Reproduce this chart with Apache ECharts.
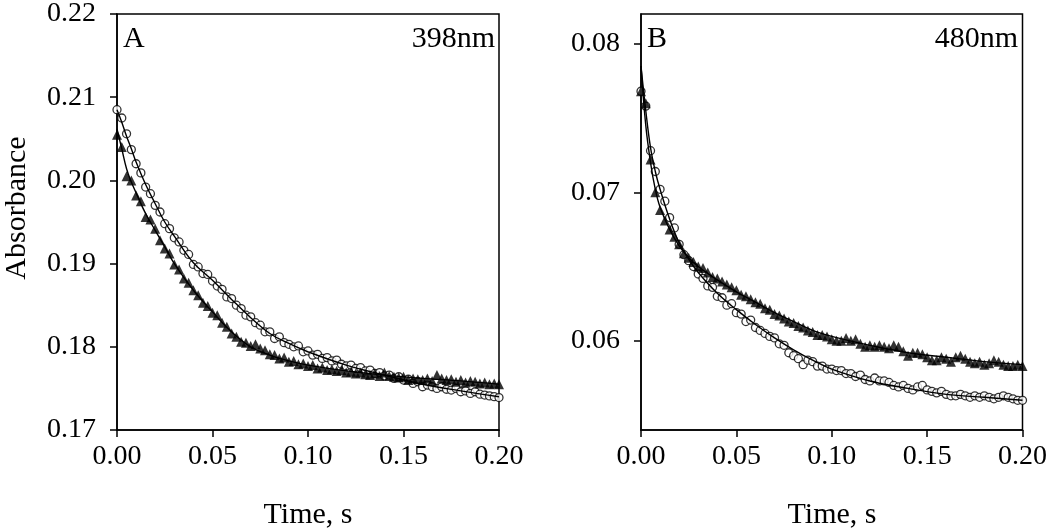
<!DOCTYPE html>
<html>
<head>
<meta charset="utf-8">
<script src="https://cdn.jsdelivr.net/npm/echarts@6/dist/echarts.min.js"></script>
<style>html,body{margin:0;padding:0;background:#fff}#c{width:1050px;height:531px}</style>
</head>
<body>
<div id="c"></div>
<script>
// ---- sample times (s) ----
const timeData = [
0.0000,0.0025,0.0050,0.0075,0.0100,0.0125,0.0150,0.0175,0.0200,0.0225,
0.0250,0.0275,0.0300,0.0325,0.0350,0.0375,0.0400,0.0425,0.0450,0.0475,
0.0500,0.0525,0.0550,0.0575,0.0600,0.0625,0.0650,0.0675,0.0700,0.0725,
0.0750,0.0775,0.0800,0.0825,0.0850,0.0875,0.0900,0.0925,0.0950,0.0975,
0.1000,0.1025,0.1050,0.1075,0.1100,0.1125,0.1150,0.1175,0.1200,0.1225,
0.1250,0.1275,0.1300,0.1325,0.1350,0.1375,0.1400,0.1425,0.1450,0.1475,
0.1500,0.1525,0.1550,0.1575,0.1600,0.1625,0.1650,0.1675,0.1700,0.1725,
0.1750,0.1775,0.1800,0.1825,0.1850,0.1875,0.1900,0.1925,0.1950,0.1975,0.2000];

// ---- Panel A (398 nm) ----
const circlesA = [
0.2085,0.2075,0.2056,0.2037,0.2020,0.2009,0.1992,0.1984,0.1970,0.1962,
0.1948,0.1942,0.1931,0.1926,0.1916,0.1911,0.1899,0.1896,0.1888,0.1887,
0.1879,0.1873,0.1869,0.1860,0.1858,0.1850,0.1846,0.1838,0.1836,0.1829,
0.1826,0.1818,0.1818,0.1810,0.1812,0.1805,0.1803,0.1800,0.1801,0.1794,
0.1795,0.1790,0.1791,0.1786,0.1787,0.1783,0.1784,0.1779,0.1777,0.1778,
0.1774,0.1775,0.1771,0.1772,0.1768,0.1769,0.1765,0.1766,0.1762,0.1764,
0.1760,0.1761,0.1756,0.1758,0.1752,0.1754,0.1752,0.1750,0.1752,0.1749,
0.1748,0.1750,0.1746,0.1747,0.1744,0.1746,0.1743,0.1742,0.1741,0.1740,0.1739];
const trianglesA = [
0.2055,0.2040,0.2005,0.2000,0.1982,0.1975,0.1956,0.1953,0.1942,0.1928,
0.1918,0.1912,0.1899,0.1893,0.1882,0.1877,0.1868,0.1862,0.1853,0.1849,
0.1841,0.1838,0.1829,0.1824,0.1816,0.1812,0.1806,0.1805,0.1801,0.1803,
0.1798,0.1796,0.1791,0.1790,0.1786,0.1787,0.1782,0.1783,0.1779,0.1780,
0.1777,0.1778,0.1774,0.1775,0.1772,0.1773,0.1771,0.1772,0.1769,0.1770,
0.1768,0.1769,0.1767,0.1766,0.1768,0.1765,0.1769,0.1765,0.1764,0.1763,
0.1764,0.1760,0.1762,0.1761,0.1760,0.1762,0.1759,0.1766,0.1762,0.1760,
0.1761,0.1758,0.1760,0.1757,0.1759,0.1758,0.1756,0.1757,0.1755,0.1756,0.1755];

// ---- fitted curves (sampled) ----
const fitTime = [0,0.0025,0.005,0.0075,0.01,0.015,0.02,0.025,0.03,0.04,0.05,0.06,0.07,0.08,0.09,0.10,0.12,0.14,0.16,0.18,0.20];
const fitCirclesA   = [0.2085,0.2070,0.2053,0.2038,0.2022,0.1995,0.1972,0.1950,0.1933,0.1901,0.1880,0.1857,0.1835,0.1816,0.1804,0.1794,0.1778,0.1766,0.1755,0.1747,0.1740];
const fitTrianglesA = [0.2062,0.2038,0.2014,0.1998,0.1985,0.1960,0.1940,0.1920,0.1900,0.1868,0.1842,0.1818,0.1800,0.1790,0.1783,0.1778,0.1771,0.1766,0.1762,0.1759,0.1755];

// ---- Panel B (480 nm) ----
const circlesB = [
0.0768,0.0758,0.0728,0.0714,0.0702,0.0694,0.0683,0.0676,0.0665,0.0658,
0.0654,0.0650,0.0645,0.0642,0.0637,0.0636,0.0630,0.0629,0.0624,0.0625,
0.0619,0.0618,0.0613,0.0614,0.0609,0.0607,0.0605,0.0603,0.0602,0.0598,
0.0597,0.0592,0.0590,0.0588,0.0584,0.0587,0.0586,0.0583,0.0583,0.0581,
0.0581,0.0580,0.0580,0.0578,0.0578,0.0576,0.0577,0.0574,0.0573,0.0575,
0.0573,0.0573,0.0572,0.0570,0.0569,0.0570,0.0568,0.0567,0.0569,0.0570,
0.0567,0.0566,0.0565,0.0566,0.0564,0.0563,0.0563,0.0564,0.0563,0.0562,
0.0563,0.0562,0.0563,0.0562,0.0561,0.0562,0.0563,0.0562,0.0561,0.0560,0.0560];
const trianglesB = [
0.0768,0.0760,0.0722,0.0700,0.0688,0.0681,0.0675,0.0670,0.0665,0.0659,
0.0656,0.0653,0.0650,0.0649,0.0646,0.0643,0.0642,0.0640,0.0638,0.0636,
0.0634,0.0631,0.0630,0.0628,0.0626,0.0625,0.0622,0.0621,0.0618,0.0617,
0.0615,0.0613,0.0612,0.0610,0.0609,0.0607,0.0606,0.0604,0.0604,0.0603,
0.0601,0.0600,0.0600,0.0602,0.0600,0.0601,0.0598,0.0596,0.0597,0.0596,
0.0597,0.0596,0.0595,0.0597,0.0596,0.0593,0.0590,0.0592,0.0592,0.0591,
0.0589,0.0587,0.0587,0.0589,0.0588,0.0586,0.0589,0.0590,0.0588,0.0586,
0.0585,0.0586,0.0584,0.0585,0.0587,0.0586,0.0584,0.0583,0.0583,0.0584,0.0583];
const fitCirclesB   = [0.0785,0.0755,0.0730,0.0714,0.0702,0.0682,0.0666,0.0655,0.0646,0.0632,0.0621,0.0611,0.0602,0.0594,0.0587,0.0581,0.0573,0.0568,0.0564,0.0562,0.0560];
const fitTrianglesB = [0.0785,0.0745,0.0720,0.0702,0.0690,0.0675,0.0664,0.0656,0.0650,0.0641,0.0633,0.0626,0.0619,0.0613,0.0607,0.0603,0.0597,0.0592,0.0589,0.0586,0.0584];

const xTicks = [0, 0.05, 0.10, 0.15, 0.20];
const yTicksA = [0.17, 0.18, 0.19, 0.20, 0.21, 0.22];
const yTicksB = [0.06, 0.07, 0.08];

function zip(t, v){ const n=Math.min(t.length,v.length); const r=[]; for(let i=0;i<n;i++) r.push([t[i],v[i]]); return r; }

const FONT = '"Liberation Serif", "Times New Roman", serif';
const lab = {color:'#000', fontFamily:FONT, fontSize:28};

function xAxis(gi){
  return {type:'value', gridIndex:gi, min:0, max:0.2,
    axisLine:{show:true, lineStyle:{color:'#000', width:1.5}},
    axisTick:{show:true, inside:false, length:7, customValues:xTicks, lineStyle:{color:'#000', width:1.5}},
    axisLabel:{...lab, margin:13, customValues:xTicks, formatter:v=>v.toFixed(2)},
    splitLine:{show:false}};
}
function yAxis(gi, min, max, ticks){
  return {type:'value', gridIndex:gi, min:min, max:max,
    axisLine:{show:true, lineStyle:{color:'#000', width:1.5}},
    axisTick:{show:true, inside:false, length:7, customValues:ticks, lineStyle:{color:'#000', width:1.5}},
    axisLabel:{...lab, margin:21, customValues:ticks, formatter:v=>v.toFixed(2)},
    splitLine:{show:false}};
}

function scatter(name, gi, data, kind){
  return {name:name, type:'scatter', xAxisIndex:gi, yAxisIndex:gi, data:data,
    symbol: kind==='c' ? 'circle' : 'triangle',
    symbolSize: kind==='c' ? 8 : 10,
    itemStyle: kind==='c' ? {color:'#fff', borderColor:'#000', borderWidth:1.3} : {color:'#000'},
    z:2, silent:true, animation:false};
}
function fit(name, gi, data){
  return {name:name, type:'line', xAxisIndex:gi, yAxisIndex:gi, data:data, smooth:0.4,
    symbol:'none', lineStyle:{color:'#000', width:1.4}, z:3, silent:true, animation:false};
}

const chart = echarts.init(document.getElementById('c'), null, {renderer:'canvas'});
chart.setOption({
  backgroundColor:'#fff',
  animation:false,
  grid:[
    {left:117, top:14, width:382, height:416, show:true, borderColor:'#000', borderWidth:1.5, backgroundColor:'transparent'},
    {left:641, top:14, width:382, height:416, show:true, borderColor:'#000', borderWidth:1.5, backgroundColor:'transparent'}
  ],
  xAxis:[xAxis(0), xAxis(1)],
  yAxis:[yAxis(0, 0.17, 0.22, yTicksA), yAxis(1, 0.054, 0.082, yTicksB)],
  series:[
    scatter('A circles', 0, zip(timeData, circlesA), 'c'),
    scatter('A triangles', 0, zip(timeData, trianglesA), 't'),
    fit('A fit circles', 0, zip(fitTime, fitCirclesA)),
    fit('A fit triangles', 0, zip(fitTime, fitTrianglesA)),
    scatter('B circles', 1, zip(timeData, circlesB), 'c'),
    scatter('B triangles', 1, zip(timeData, trianglesB), 't'),
    fit('B fit circles', 1, zip(fitTime, fitCirclesB)),
    fit('B fit triangles', 1, zip(fitTime, fitTrianglesB))
  ],
  graphic:[
    {type:'text', x:123, y:24, style:{text:'A', font:'30px '+FONT, fill:'#000'}},
    {type:'text', x:495, y:24, style:{text:'398nm', font:'30px '+FONT, fill:'#000', align:'right'}},
    {type:'text', x:647, y:24, style:{text:'B', font:'30px '+FONT, fill:'#000'}},
    {type:'text', x:1018, y:24, style:{text:'480nm', font:'30px '+FONT, fill:'#000', align:'right'}},
    {type:'text', x:308, y:500, style:{text:'Time, s', font:'30px '+FONT, fill:'#000', align:'center'}},
    {type:'text', x:832, y:500, style:{text:'Time, s', font:'30px '+FONT, fill:'#000', align:'center'}},
    {type:'text', x:2, y:208, rotation:Math.PI/2, style:{text:'Absorbance', font:'30px '+FONT, fill:'#000', align:'center', verticalAlign:'top'}}
  ]
});
</script>
</body>
</html>
